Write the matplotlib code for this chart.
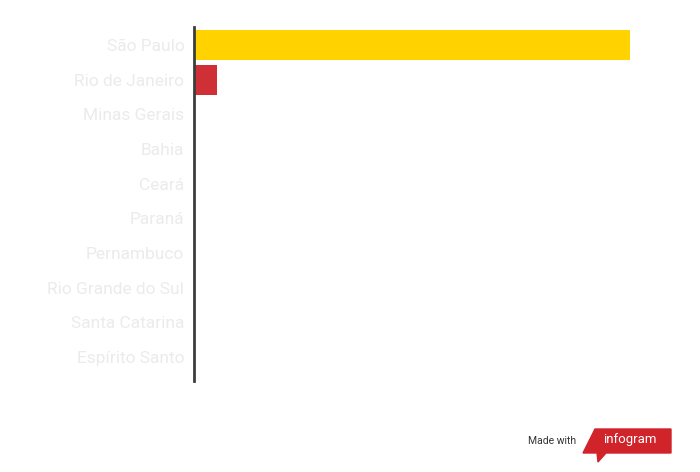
import matplotlib
matplotlib.use("Agg")
import matplotlib.pyplot as plt
from matplotlib.patches import Polygon

states = ["São Paulo", "Rio de Janeiro", "Minas Gerais", "Bahia", "Ceará",
          "Paraná", "Pernambuco", "Rio Grande do Sul", "Santa Catarina", "Espírito Santo"]
values = [1000, 53, 0, 0, 0, 0, 0, 0, 0, 0]
bar_colors = ["#ffd200", "#cf3036"] + ["#cf3036"] * 8

W, H = 700, 472
fig = plt.figure(figsize=(W / 100, H / 100), dpi=100)

# axes box in pixel coords: x 194..630, y 27..381
ax = fig.add_axes([194 / W, 1 - 381 / H, (630 - 194) / W, (381 - 27) / H])
ypos = list(range(len(states)))
ax.barh(ypos, values, height=0.87, color=bar_colors, zorder=2)
ax.set_xlim(0, max(values))
ax.set_ylim(9.69, -0.52)
ax.set_yticks(ypos)
ax.set_yticklabels(states, fontsize=12.5, color="#ebebeb", family="Roboto")
ax.tick_params(axis="y", length=0, pad=7)
ax.set_xticks([])
for s in ["top", "right", "bottom"]:
    ax.spines[s].set_visible(False)
ax.spines["left"].set_color("#3d3d3d")
ax.spines["left"].set_linewidth(2)
ax.spines["left"].set_zorder(3)

# "Made with infogram" badge
fig.text(528 / W, 1 - 441 / H, "Made with", fontsize=7.5, color="#333333",
         va="center", ha="left", family="Roboto")
banner = Polygon([(583 / W, 1 - 453 / H), (595 / W, 1 - 429 / H), (671 / W, 1 - 429 / H),
                  (671 / W, 1 - 453 / H), (606 / W, 1 - 453 / H), (598 / W, 1 - 462 / H),
                  (597 / W, 1 - 453 / H)],
                 closed=True, transform=fig.transFigure, color="#d1232a")
fig.patches.append(banner)
fig.text(630 / W, 1 - 440 / H, "infogram", fontsize=9.5, color="white",
         va="center", ha="center", family="Roboto")

fig.savefig("out.png", dpi=100, facecolor="white")
